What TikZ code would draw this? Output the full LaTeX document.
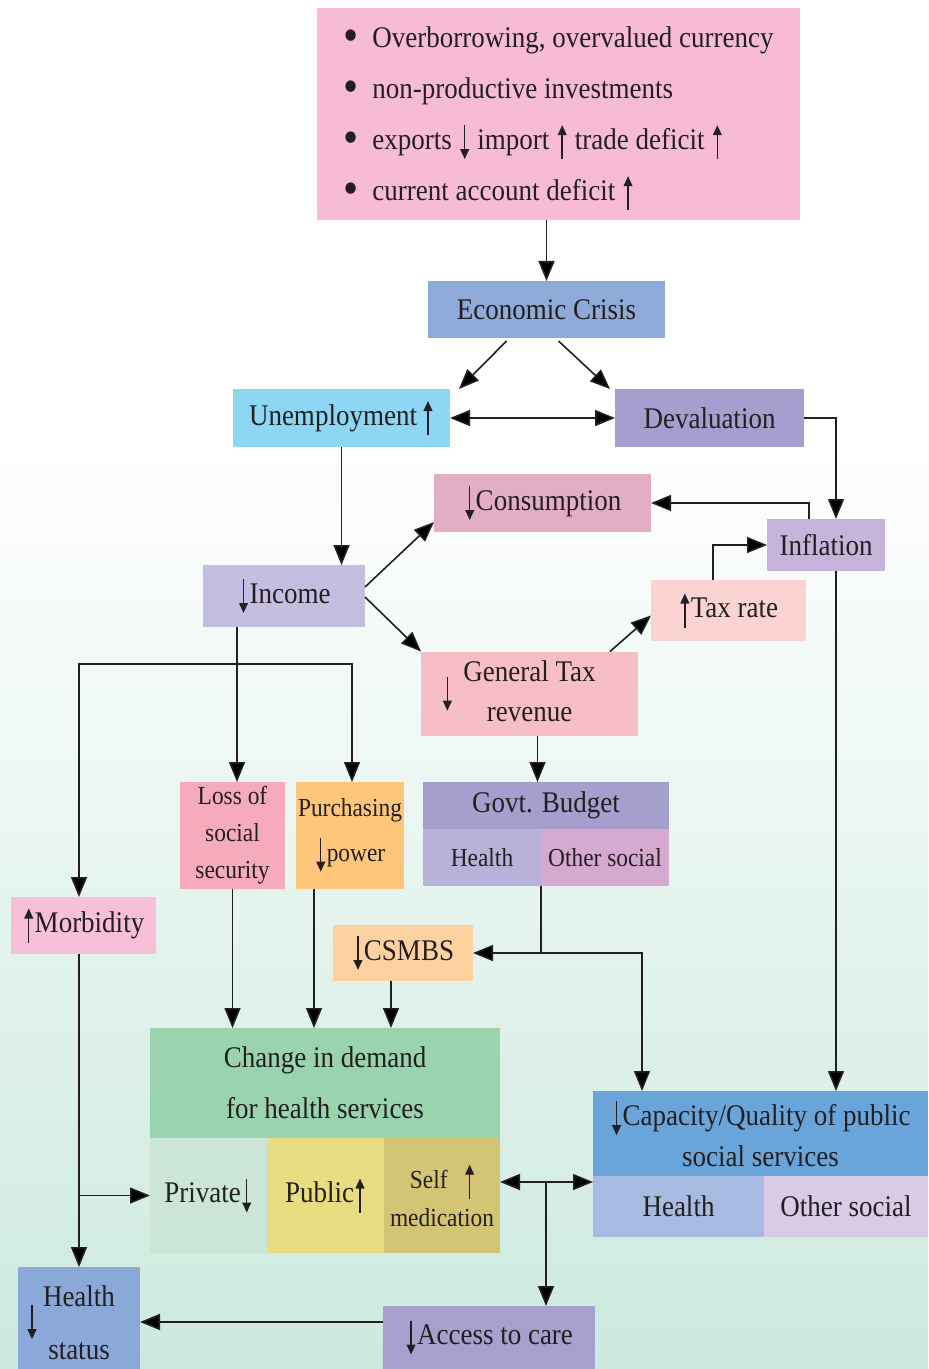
\documentclass[tikz,border=0pt]{standalone}
\usepackage{fontspec}
\setmainfont[FakeStretch=0.9]{Liberation Serif}
\usetikzlibrary{arrows.meta}

\definecolor{ink}{HTML}{231F20}
\definecolor{cBg}{HTML}{CCE9DD}
\definecolor{cCauses}{HTML}{F7BBD6}
\definecolor{cCrisis}{HTML}{8EAAD9}
\definecolor{cUnemp}{HTML}{8DD7F5}
\definecolor{cDeval}{HTML}{A59FCF}
\definecolor{cConsum}{HTML}{E1AEC5}
\definecolor{cInfl}{HTML}{C6B4DA}
\definecolor{cIncome}{HTML}{C6BEE0}
\definecolor{cTaxRate}{HTML}{FBD3D3}
\definecolor{cGenTax}{HTML}{F8BEC6}
\definecolor{cLoss}{HTML}{F5ABBB}
\definecolor{cPurch}{HTML}{FEC67A}
\definecolor{cBudget}{HTML}{A49FCD}
\definecolor{cBHealth}{HTML}{B6B2D9}
\definecolor{cBOther}{HTML}{D6AAD0}
\definecolor{cMorb}{HTML}{F7C0D8}
\definecolor{cCsmbs}{HTML}{FED1A0}
\definecolor{cChange}{HTML}{9AD4AE}
\definecolor{cPrivate}{HTML}{CBE6D6}
\definecolor{cPublic}{HTML}{E8DD80}
\definecolor{cSelf}{HTML}{D3C574}
\definecolor{cCap}{HTML}{69A5DB}
\definecolor{cCHealth}{HTML}{A7BAE1}
\definecolor{cCOther}{HTML}{D9CAE5}
\definecolor{cHStat}{HTML}{8AA9D9}
\definecolor{cAccess}{HTML}{A6A0CF}

\newcommand\up{\hspace{0.8pt}\tikz[baseline=0pt]\draw[line width=0.7pt,draw=ink,-{Triangle[length=5pt,width=4.4pt]}] (0pt,-5pt) -- (0pt,12pt);\hspace{0.8pt}}
\newcommand\dn{\hspace{0.8pt}\tikz[baseline=0pt]\draw[line width=0.7pt,draw=ink,-{Triangle[length=5pt,width=4.4pt]}] (0pt,12pt) -- (0pt,-5pt);\hspace{0.8pt}}
\newcommand\bul{\makebox[14.5pt][l]{\raisebox{-2pt}{\fontsize{24}{24}\selectfont\textbullet}}}

\begin{document}
\begin{tikzpicture}[x=0.5pt,y=-0.5pt]

    \tikzset{
      box/.style={
        inner sep=1pt,
        outer sep=0pt,
        align=center,
        text=ink,
        font=\fontsize{15}{20}\selectfont,
      },
      small/.style={font=\fontsize{13}{18.5}\selectfont},
      arr/.style={line width=0.8pt, draw=ink, -{Triangle[length=10pt,width=8pt]}},
      arrs/.style={line width=0.8pt, draw=ink, {Triangle[length=10pt,width=8pt]}-{Triangle[length=10pt,width=8pt]}},
      line/.style={line width=0.8pt, draw=ink},
    }
    \useasboundingbox (0,0) rectangle (928,1369);
	\fill[white] (0,0) rectangle (928,440);
	\shade[top color=white, bottom color=cBg] (0,440) rectangle (928,1369);

	\node[box, fill=cCauses, minimum width=241.5pt, minimum height=106pt, align=left, font=\fontsize{15}{25.5}\selectfont] (causes) at (558.5,114) {\rule{0pt}{15pt}\bul Overborrowing, overvalued currency\\\bul non-productive investments\\\bul exports \dn{} import \up{} trade deficit \up\\\bul current account deficit \up};
	\node[box, fill=cCrisis, minimum width=118.5pt, minimum height=28.5pt] (crisis) at (546.5,309.5) {Economic Crisis};
	\node[box, fill=cUnemp, minimum width=108.5pt, minimum height=29pt] (unemp) at (341.5,418) {Unemployment\,\up};
	\node[box, fill=cDeval, minimum width=94.5pt, minimum height=29pt] (deval) at (709.5,418) {Devaluation};
	\node[box, fill=cConsum, minimum width=108.5pt, minimum height=29pt] (consum) at (542.5,503) {\dn Consumption};
	\node[box, fill=cInfl, minimum width=59pt, minimum height=26pt] (infl) at (826,545) {Inflation};
	\node[box, fill=cIncome, minimum width=81pt, minimum height=31pt] (income) at (284,596) {\dn Income};
	\node[box, fill=cTaxRate, minimum width=77.5pt, minimum height=30.5pt] (taxrate) at (728.5,610.5) {\up Tax rate};
	\node[box, fill=cGenTax, minimum width=108.5pt, minimum height=39.5pt] (gentax) at (529.5,693.5) {\llap{\dn\hspace{5pt}}\begin{tabular}{@{}c@{}}General Tax\\revenue\end{tabular}};
	\node[box, small, fill=cLoss, minimum width=52.5pt, minimum height=53.5pt] (loss) at (232.5,835.5) {Loss of\\social\\security};
	\node[box, fill=cPurch, minimum width=53pt, minimum height=53.5pt, font=\fontsize{13}{22.5}\selectfont] (purch) at (350,835.5) {Purchasing\\\dn power};
	\node[box, fill=cBudget, minimum width=123pt, minimum height=23.5pt] (budget) at (546,805.5) {Govt. Budget};
	\node[box, small, fill=cBHealth, minimum width=59pt, minimum height=28.5pt] (bhealth) at (482,857.5) {Health};
	\node[box, small, fill=cBOther, minimum width=64pt, minimum height=28.5pt] (bother) at (605,857.5) {Other social};
	\node[box, fill=cMorb, minimum width=72.5pt, minimum height=28.5pt] (morb) at (83.5,925.5) {\up Morbidity};
	\node[box, fill=cCsmbs, minimum width=70pt, minimum height=28pt] (csmbs) at (403,953) {\dn CSMBS};
	\node[box, fill=cChange, minimum width=175pt, minimum height=55pt, font=\fontsize{15}{25.5}\selectfont] (change) at (325,1083) {Change in demand\\for health services};
	\node[box, fill=cPrivate, minimum width=58.5pt, minimum height=57.5pt] (private) at (208.5,1195.5) {Private\dn};
	\node[box, fill=cPublic, minimum width=58.5pt, minimum height=57.5pt] (public) at (325.5,1195.5) {Public\up};
	\node[box, fill=cSelf, minimum width=58pt, minimum height=57.5pt, font=\fontsize{13}{19}\selectfont] (selfmed) at (442,1195.5) {Self\hspace{8pt}\up\\medication};
	\node[box, fill=cCap, minimum width=167.5pt, minimum height=42.5pt, font=\fontsize{15}{20.5}\selectfont] (cap) at (760.5,1133.5) {\dn Capacity/Quality of public\\social services};
	\node[box, fill=cCHealth, minimum width=85.5pt, minimum height=30.5pt] (caph) at (678.5,1206.5) {Health};
	\node[box, fill=cCOther, minimum width=82pt, minimum height=30.5pt] (capo) at (846,1206.5) {Other social};
	\node[box, fill=cHStat, minimum width=61pt, minimum height=47pt, font=\fontsize{15}{26.5}\selectfont] (hstat) at (79,1322) {\llap{\dn\hspace{2.5pt}}\begin{tabular}{@{}c@{}}Health\\status\end{tabular}};
	\node[box, fill=cAccess, minimum width=106pt, minimum height=31.5pt] (access) at (489,1337.5) {\dn Access to care};

	\coordinate (isplit) at (237,664);
	\coordinate (bsplit) at (bhealth.south east |- csmbs.east);
	\coordinate (msplit) at (hstat.north |- private.west);
	\coordinate (csplit) at (546,1182);

	\draw[arr] (crisis.north |- causes.south) -- (crisis.north);
	\draw[arr] ([xshift=-20pt,yshift=-1.5pt]crisis.south) -- ([xshift=4.5pt]unemp.north east);
	\draw[arr] ([xshift=6pt,yshift=-1.5pt]crisis.south) -- ([xshift=-2.5pt]deval.north west);
	\draw[arrs] (unemp.east) -- (deval.west);
	\draw[arr] (deval.east) -| ([xshift=5pt]infl.north);
	\draw[arr] ([xshift=-8.5pt]infl.north) |- (consum.east);
	\draw[arr] ([xshift=-7.75pt]taxrate.north) |- (infl.west);
	\draw[arr] (unemp.south) -- (unemp.south |- income.north);
	\draw[arr] ([yshift=4.5pt]income.east) -- ([yshift=5pt]consum.south west);
	\draw[arr] ([yshift=-0.5pt]income.east) -- (gentax.north west);
	\draw[arr] ([xshift=-14pt]gentax.north east) -- ([yshift=-2.5pt]taxrate.west);
	\draw[arr] ([xshift=4pt]gentax.south) -- ([xshift=4pt]gentax.south |- budget.north);
	\draw[arr] (isplit |- income.south) -- (isplit) -- (isplit |- loss.north);
	\draw[arr] (isplit) -| ([xshift=-2.25pt]morb.north);
	\draw[arr] (isplit) -| ([xshift=1pt]purch.north);
	\draw[arr] ([xshift=5pt]infl.south) -- ([xshift=5pt]infl.south |- cap.north);
	\draw[line] (bhealth.south east) -- (bsplit);
	\draw[arr] (bsplit) -- (csmbs.east);
	\draw[arr] (bsplit) -| ([xshift=24.5pt]cap.north west);
	\draw[arr] (loss.south) -- (loss.south |- change.north);
	\draw[arr] ([xshift=-18pt]purch.south) -- ([xshift=-18pt]purch.south |- change.north);
	\draw[arr] ([xshift=-6pt]csmbs.south) -- ([xshift=-6pt]csmbs.south |- change.north);
	\draw[arr] (hstat.north |- morb.south) -- (hstat.north);
	\draw[arr] (msplit) -- (private.west);
	\draw[arrs] (csplit -| selfmed.east) -- (csplit -| caph.west);
	\draw[arr] (csplit) -- (csplit |- access.north);
	\draw[arr] (access.west |- hstat.east) -- (hstat.east);

\end{tikzpicture}
\end{document}
